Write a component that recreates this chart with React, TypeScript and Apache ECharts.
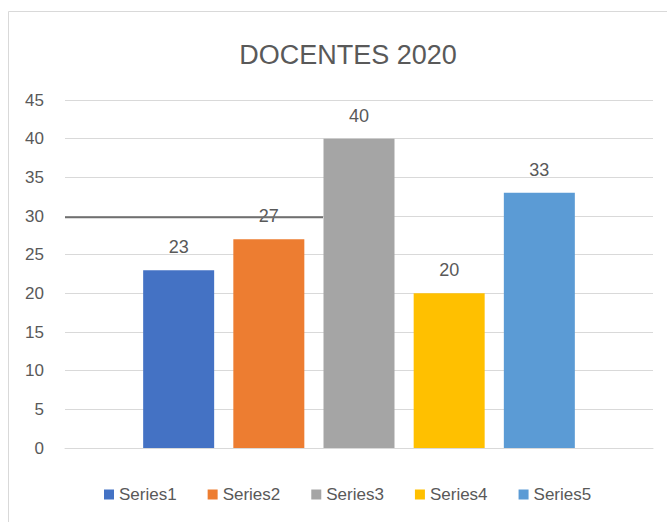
import React, { useEffect, useRef } from "react";
import * as echarts from "echarts";

const seriesNames = ["Series1", "Series2", "Series3", "Series4", "Series5"];
const seriesValues = [23, 27, 40, 20, 33];
const seriesColors = ["#4472C4", "#ED7D31", "#A5A5A5", "#FFC000", "#5B9BD5"];
const categories = [""];
const titleText = "DOCENTES 2020";
const annotationValue = 29.85;

export default function App() {
  const ref = useRef<HTMLDivElement>(null);
  useEffect(() => {
    if (!ref.current) return;
    const chart = echarts.init(ref.current, undefined, { renderer: "svg" });
    const textColor = "#595959";
    const font = "'Liberation Sans', Arial, sans-serif";
    chart.setOption({
      animation: false,
      backgroundColor: "#ffffff",
      title: {
        text: titleText,
        left: 343,
        textAlign: "center",
        top: 36,
        textStyle: {
          fontFamily: "'Liberation Sans Narrow', 'Liberation Sans', sans-serif",
          fontSize: 27,
          fontWeight: "normal",
          color: textColor,
        },
      },
      legend: {
        data: seriesNames,
        bottom: 14,
        left: 99,
        itemWidth: 10,
        itemHeight: 10,
        itemGap: 31,
        icon: "rect",
        textStyle: { fontFamily: font, fontSize: 17, color: textColor },
      },
      grid: { left: 65, right: 14, top: 100, bottom: 74, containLabel: false },
      xAxis: {
        type: "category",
        data: categories,
        axisLine: { show: true, lineStyle: { color: "#d9d9d9", width: 1 } },
        axisTick: { show: false },
        axisLabel: { show: false },
      },
      yAxis: {
        type: "value",
        min: 0,
        max: 45,
        interval: 5,
        axisLine: { show: false },
        axisTick: { show: false },
        axisLabel: { fontFamily: font, fontSize: 17, color: textColor, margin: 21 },
        splitLine: { lineStyle: { color: "#d9d9d9", width: 1 } },
      },
      series: seriesNames.map((name, i) => ({
        name,
        type: "bar",
        data: [seriesValues[i]],
        barWidth: 71,
        barGap: "27%",
        itemStyle: { color: seriesColors[i] },
        label: {
          show: true,
          position: "top",
          distance: 14,
          fontFamily: font,
          fontSize: 18,
          color: textColor,
        },
      })),
    });
    const y = chart.convertToPixel({ yAxisIndex: 0 }, annotationValue) as number;
    chart.setOption({
      graphic: [
        {
          type: "rect",
          shape: { x: 8.5, y: 11.5, width: 700, height: 600 },
          style: { fill: "none", stroke: "#d9d9d9", lineWidth: 1 },
          silent: true,
        },
        {
          type: "line",
          shape: { x1: 65, y1: y, x2: 323, y2: y },
          style: { stroke: "#6f6f6f", lineWidth: 2 },
          z: 100,
          silent: true,
        },
      ],
    });
    return () => chart.dispose();
  }, []);
  return (
    <div
      ref={ref}
      style={{ position: "fixed", left: 0, top: 0, width: 667, height: 522 }}
    />
  );
}
